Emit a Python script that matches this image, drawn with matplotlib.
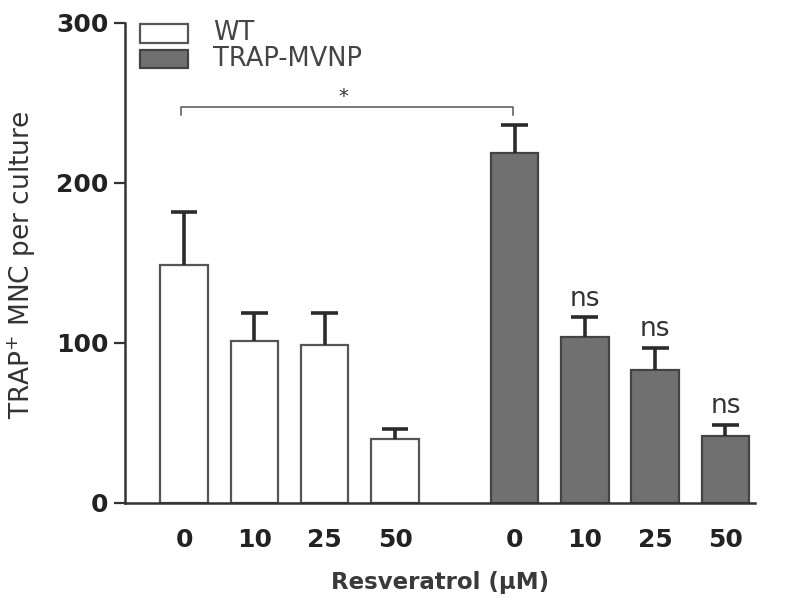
import matplotlib
matplotlib.use("Agg")
import matplotlib.pyplot as plt
from matplotlib.patches import Rectangle
import numpy as np

# ---- data ----
doses = ["0", "10", "25", "50"]
wt_means = [149, 101, 99, 40]
wt_sem = [33, 18, 20, 6]
mvnp_means = [219, 104, 83, 42]
mvnp_sem = [17, 12, 14, 7]
mvnp_marks = ["", "ns", "ns", "ns"]
groups = ["WT", "TRAP-MVNP"]

wt_x = np.arange(4, dtype=float)
mvnp_x = np.arange(4, dtype=float) + 4.7

fig = plt.figure(figsize=(8, 6.04), dpi=100)
ax = fig.add_axes([125/800, 1-503/604, 630/800, 480/604])

bw = 0.675
wt_col = "white"
mv_col = "#707070"
ax.bar(wt_x, wt_means, width=bw, color=wt_col, edgecolor="#555555", linewidth=1.6, zorder=2)
ax.bar(mvnp_x, mvnp_means, width=bw, color=mv_col, edgecolor="#444444", linewidth=1.6, zorder=2)

cap = 0.19
for xs, ms, es in [(wt_x, wt_means, wt_sem), (mvnp_x, mvnp_means, mvnp_sem)]:
    tops = np.array(ms) + np.array(es)
    ax.vlines(xs, ms, tops, color="#2b2b2b", lw=2.6, zorder=3)
    ax.hlines(tops, xs - cap, xs + cap, color="#2b2b2b", lw=2.6, zorder=3)

for x, m, e, t in zip(mvnp_x, mvnp_means, mvnp_sem, mvnp_marks):
    if t:
        ax.annotate(t, (x, m + e), xytext=(0, 4), textcoords="offset points",
                    ha="center", va="bottom", fontsize=19, color="#333333")

# significance bracket between WT 0 and MVNP 0
x1, x2 = wt_x[0] - 0.05, mvnp_x[0] - 0.02
yb, yd = 247.5, 242.5
ax.plot([x1, x1, x2, x2], [yd, yb, yb, yd], color="#555555", lw=1.1, clip_on=False)
ax.text((x1 + x2) / 2 - 0.05, yb + 0.5, "*", ha="center", va="bottom", fontsize=14, color="#333333")

ax.set_xlim(-0.84, 8.12)
ax.set_ylim(0, 300)
ax.set_yticks([0, 100, 200, 300])
ax.set_yticklabels(["0", "100", "200", "300"], fontsize=18, fontweight="bold", color="#222222")
ax.set_xticks(np.concatenate([wt_x, mvnp_x]))
ax.set_xticklabels(doses + doses, fontsize=18, fontweight="bold", color="#222222")
ax.tick_params(axis="x", length=0, pad=18)
ax.tick_params(axis="y", length=8, width=1.6, color="#333333", pad=4)

for s in ["top", "right"]:
    ax.spines[s].set_visible(False)
for s in ["left", "bottom"]:
    ax.spines[s].set_linewidth(1.8)
    ax.spines[s].set_color("#333333")

ax.set_xlabel("Resveratrol (\u03bcM)", fontsize=16.5, fontweight="bold", color="#3a3a3a", labelpad=14)
ax.set_ylabel(r"TRAP$^{+}$ MNC per culture", fontsize=19, color="#333333")
ax.yaxis.set_label_coords(-0.138, 0.496)

# legend (manual)
W = 630.0; H = 480.0
ax.add_patch(Rectangle((15/W, (503-43)/H), 48/W, 19/H, transform=ax.transAxes,
                       facecolor=wt_col, edgecolor="#555555", lw=1.6, clip_on=False))
ax.add_patch(Rectangle((15/W, (503-68)/H), 48/W, 18/H, transform=ax.transAxes,
                       facecolor=mv_col, edgecolor="#444444", lw=1.6, clip_on=False))
ax.text(88/W, (503-33.5)/H, groups[0], transform=ax.transAxes, fontsize=18.5,
        va="center", ha="left", color="#444444")
ax.text(88/W, (503-59)/H, groups[1], transform=ax.transAxes, fontsize=18.5,
        va="center", ha="left", color="#444444")

fig.savefig("out.png", dpi=100)
